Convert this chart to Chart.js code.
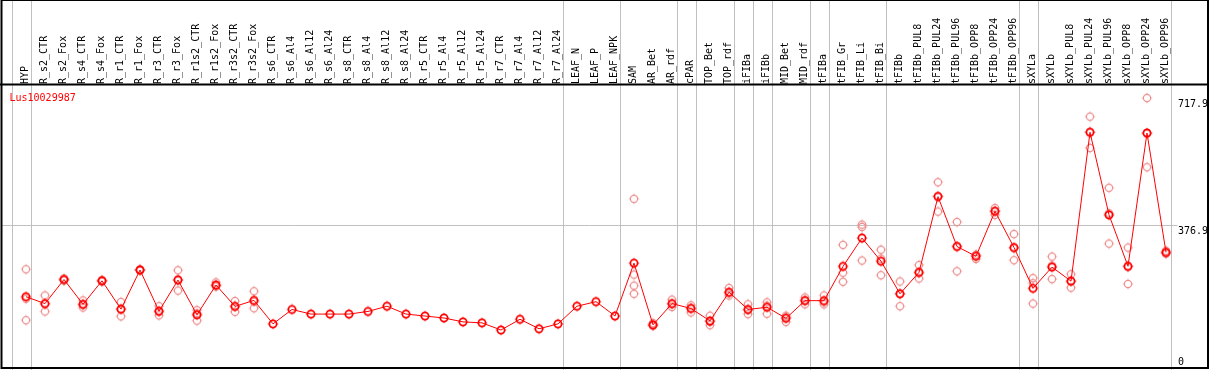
<!DOCTYPE html>
<html>
<head>
<meta charset="utf-8">
<script src="https://cdn.jsdelivr.net/npm/chart.js@4.4.1/dist/chart.umd.min.js"></script>
<style>
  html, body { margin: 0; padding: 0; background: #fff; }
  canvas { display: block; }
</style>
</head>
<body>
<canvas id="exprChart" width="1209" height="370"></canvas>
<script>
var categories = ["HYP", "R_s2_CTR", "R_s2_Fox", "R_s4_CTR", "R_s4_Fox", "R_r1_CTR", "R_r1_Fox",
  "R_r3_CTR", "R_r3_Fox", "R_r1s2_CTR", "R_r1s2_Fox", "R_r3s2_CTR", "R_r3s2_Fox",
  "R_s6_CTR", "R_s6_Al4", "R_s6_Al12", "R_s6_Al24", "R_s8_CTR", "R_s8_Al4", "R_s8_Al12", "R_s8_Al24",
  "R_r5_CTR", "R_r5_Al4", "R_r5_Al12", "R_r5_Al24", "R_r7_CTR", "R_r7_Al4", "R_r7_Al12", "R_r7_Al24",
  "LEAF_N", "LEAF_P", "LEAF_NPK", "SAM", "AR_Bet", "AR_rdf", "cPAR", "TOP_Bet", "TOP_rdf",
  "iFIBa", "iFIBb", "MID_Bet", "MID_rdf", "tFIBa", "tFIB_Gr", "tFIB_Li", "tFIB_Bi",
  "tFIBb", "tFIBb_PUL8", "tFIBb_PUL24", "tFIBb_PUL96", "tFIBb_OPP8", "tFIBb_OPP24", "tFIBb_OPP96",
  "sXYLa", "sXYLb", "sXYLb_PUL8", "sXYLb_PUL24", "sXYLb_PUL96", "sXYLb_OPP8", "sXYLb_OPP24", "sXYLb_OPP96"];

var means = [184.2, 165.8, 230.4, 163.9, 227, 150.8, 256, 145.5, 228.9, 135.8, 215.7, 158.2, 174.4,
  111.3, 150.0, 137.6, 137.6, 137.6, 144.7, 158.7, 137.6, 132.4, 127.1, 116.6, 114.0,
  94.8, 123.7, 98.2, 111.3, 158.7, 171.0, 132.4, 274.4, 108.7, 165.8, 152.6, 119.2, 196.3,
  150.0, 156.0, 126.3, 173.7, 173.7, 265.7, 341.9, 279.6, 192.1, 249.9, 453.1, 319.0,
  292.8, 413.7, 316.4, 206.8, 263.8, 226.2, 625.9, 404.0, 266.1, 624.0, 303.3];

// replicate measurements (null where the sample has no replicates drawn)
var rep1 = [258.0, 187.6, 233, 174.4, 229, 170, 258, 158.7, 255.2, 148.2, 222.6, 172.6, 198.9,
  null, null, null, null, null, null, null, null, null, null, null, null, null, null, null, null,
  null, null, null, 447.1, 113.2, 176.3, 161.3, 133.2, 207.8, 163.9, 169.2, 133.2, 182.3, 187.6,
  323.5, 377.7, 310.4, 225.2, 269.1, 491.8, 384.8, 297.2, 422.4, 352.4, 234.1, 292, 244.6,
  667.9, 476.8, 316.2, 717.9, 307.7];
var rep2 = [121.1, 144.7, 228, 155.3, 225, 131.6, 254, 134.2, 200.7, 120, 212, 143.7, 153.4,
  null, null, null, null, null, null, null, null, null, null, null, null, null, null, null, null,
  null, null, null, 192.1, 106.1, 156.8, 142.1, 107.9, 187.6, 137.6, 138.4, 116.6, 163.9, 163.9,
  224.4, 281.5, 242, 158.7, 233.1, 412.9, 252.5, 285.7, 404, 282.2, 165.8, 231.5, 208.6,
  583.8, 326.9, 218.4, 532, 300];
var rep3 = [178.9, 165, 230, 162, 227, 150.8, 256, 143.6, 230.8, 139.2, 212.5, 158.3, 171,
  null, null, null, null, null, null, null, null, null, null, null, null, null, null, null, null,
  null, null, null, 243.6, 107, 164.3, 154.4, 116.5, 193.5, 148.5, 160.4, 129, 174.9, 169.6,
  248.8, 371.6, 286.4, 192.4, 247.5, 454.6, 319.7, 295.5, 414.7, 314.6, 220.5, 268, 225.4,
  626, 408.3, 263.7, 622, 302];
var rep4 = categories.map(function (c) { return c === "SAM" ? 213.9 : null; });

var yTicks = [0, 376.9, 717.9];
// groups end after these category indices (-1 = left edge)
var groupEnds = [-1, 0, 28, 31, 34, 35, 37, 38, 39, 41, 42, 45, 52, 53, 60];
var geneName = "Lus10029987";

var MONO = "'DejaVu Sans Mono', 'Liberation Mono', monospace";

function makeMarker(color, lw) {
  var c = document.createElement('canvas');
  c.width = 12; c.height = 12;
  var g = c.getContext('2d');
  g.strokeStyle = color;
  g.fillStyle = color;
  g.lineWidth = lw;
  g.beginPath();
  g.arc(6, 6, 3.6, 0, Math.PI * 2);
  g.stroke();
  // tiny nubs top/bottom/left/right
  g.fillRect(5.5, 0.8, 1, 1);
  g.fillRect(5.5, 10.2, 1, 1);
  g.fillRect(0.8, 5.5, 1, 1);
  g.fillRect(10.2, 5.5, 1, 1);
  return c;
}

var meanMarker = makeMarker('#ff0000', 1.7);
var repMarker = makeMarker('#ee9090', 1.2);

function repSet(vals) {
  return {
    data: vals,
    showLine: false,
    pointStyle: repMarker,
    pointRadius: 5,
    borderColor: '#ee9090',
    backgroundColor: 'transparent'
  };
}

var framePlugin = {
  id: 'frame',
  beforeDatasetsDraw: function (chart) {
    var ctx = chart.ctx;
    var area = chart.chartArea;
    var x = chart.scales.x, y = chart.scales.y;
    var step = x.getPixelForValue(1) - x.getPixelForValue(0);
    ctx.save();
    // group separators
    ctx.strokeStyle = '#c0c0c0';
    ctx.lineWidth = 1;
    groupEnds.forEach(function (i) {
      var px = Math.round(x.getPixelForValue(0) + step * i + 4.5) + 0.5;
      ctx.beginPath();
      ctx.moveTo(px, 0);
      ctx.lineTo(px, chart.height);
      ctx.stroke();
    });
    // horizontal reference line
    var py = Math.round(y.getPixelForValue(yTicks[1])) + 0.5;
    ctx.beginPath();
    ctx.moveTo(2, py);
    ctx.lineTo(area.right + 2, py);
    ctx.stroke();
    // frame and header rule
    ctx.strokeStyle = '#000';
    ctx.lineWidth = 2;
    ctx.strokeRect(1.5, 0, chart.width - 2.5, chart.height - 2);
    ctx.beginPath();
    ctx.moveTo(0, area.top - 0.5);
    ctx.lineTo(chart.width, area.top - 0.5);
    ctx.stroke();
    // right axis values
    ctx.fillStyle = '#000';
    ctx.font = '10px ' + MONO;
    ctx.textAlign = 'left';
    ctx.textBaseline = 'middle';
    yTicks.forEach(function (v) {
      var ty = Math.min(y.getPixelForValue(v) + 6, chart.height - 8);
      ctx.fillText(String(v), area.right + 2.5, ty);
    });
    // gene name
    ctx.fillStyle = '#ff0000';
    ctx.textBaseline = 'top';
    ctx.fillText(geneName, 9.5, area.top + 8);
    ctx.restore();
  }
};

var chart = new Chart(document.getElementById('exprChart'), {
  type: 'line',
  data: {
    labels: categories,
    datasets: [
      {
        data: means,
        borderColor: '#ff0000',
        borderWidth: 1,
        tension: 0,
        pointStyle: meanMarker,
        pointRadius: 5,
        backgroundColor: 'transparent'
      },
      repSet(rep1),
      repSet(rep2),
      repSet(rep3),
      repSet(rep4)
    ]
  },
  options: {
    responsive: false,
    animation: false,
    devicePixelRatio: 1,
    layout: { padding: { left: 16.5, right: 0, top: 0, bottom: 0 } },
    plugins: { legend: { display: false }, tooltip: { enabled: false } },
    scales: {
      x: {
        position: 'top',
        offset: true,
        grid: { display: false, drawTicks: false },
        border: { display: false },
        ticks: {
          autoSkip: false,
          minRotation: 90,
          maxRotation: 90,
          padding: 1,
          labelOffset: 11,
          color: '#000',
          font: { family: MONO, size: 10 }
        },
        afterFit: function (scale) { scale.height = 85; }
      },
      y: {
        position: 'right',
        min: 3.55,
        max: 752.85,
        grid: { display: false, drawTicks: false },
        border: { display: false },
        ticks: { display: false },
        afterBuildTicks: function (scale) {
          scale.ticks = yTicks.map(function (v) { return { value: v }; });
        },
        afterFit: function (scale) { scale.width = 33.5; }
      }
    }
  },
  plugins: [framePlugin]
});
</script>
</body>
</html>
